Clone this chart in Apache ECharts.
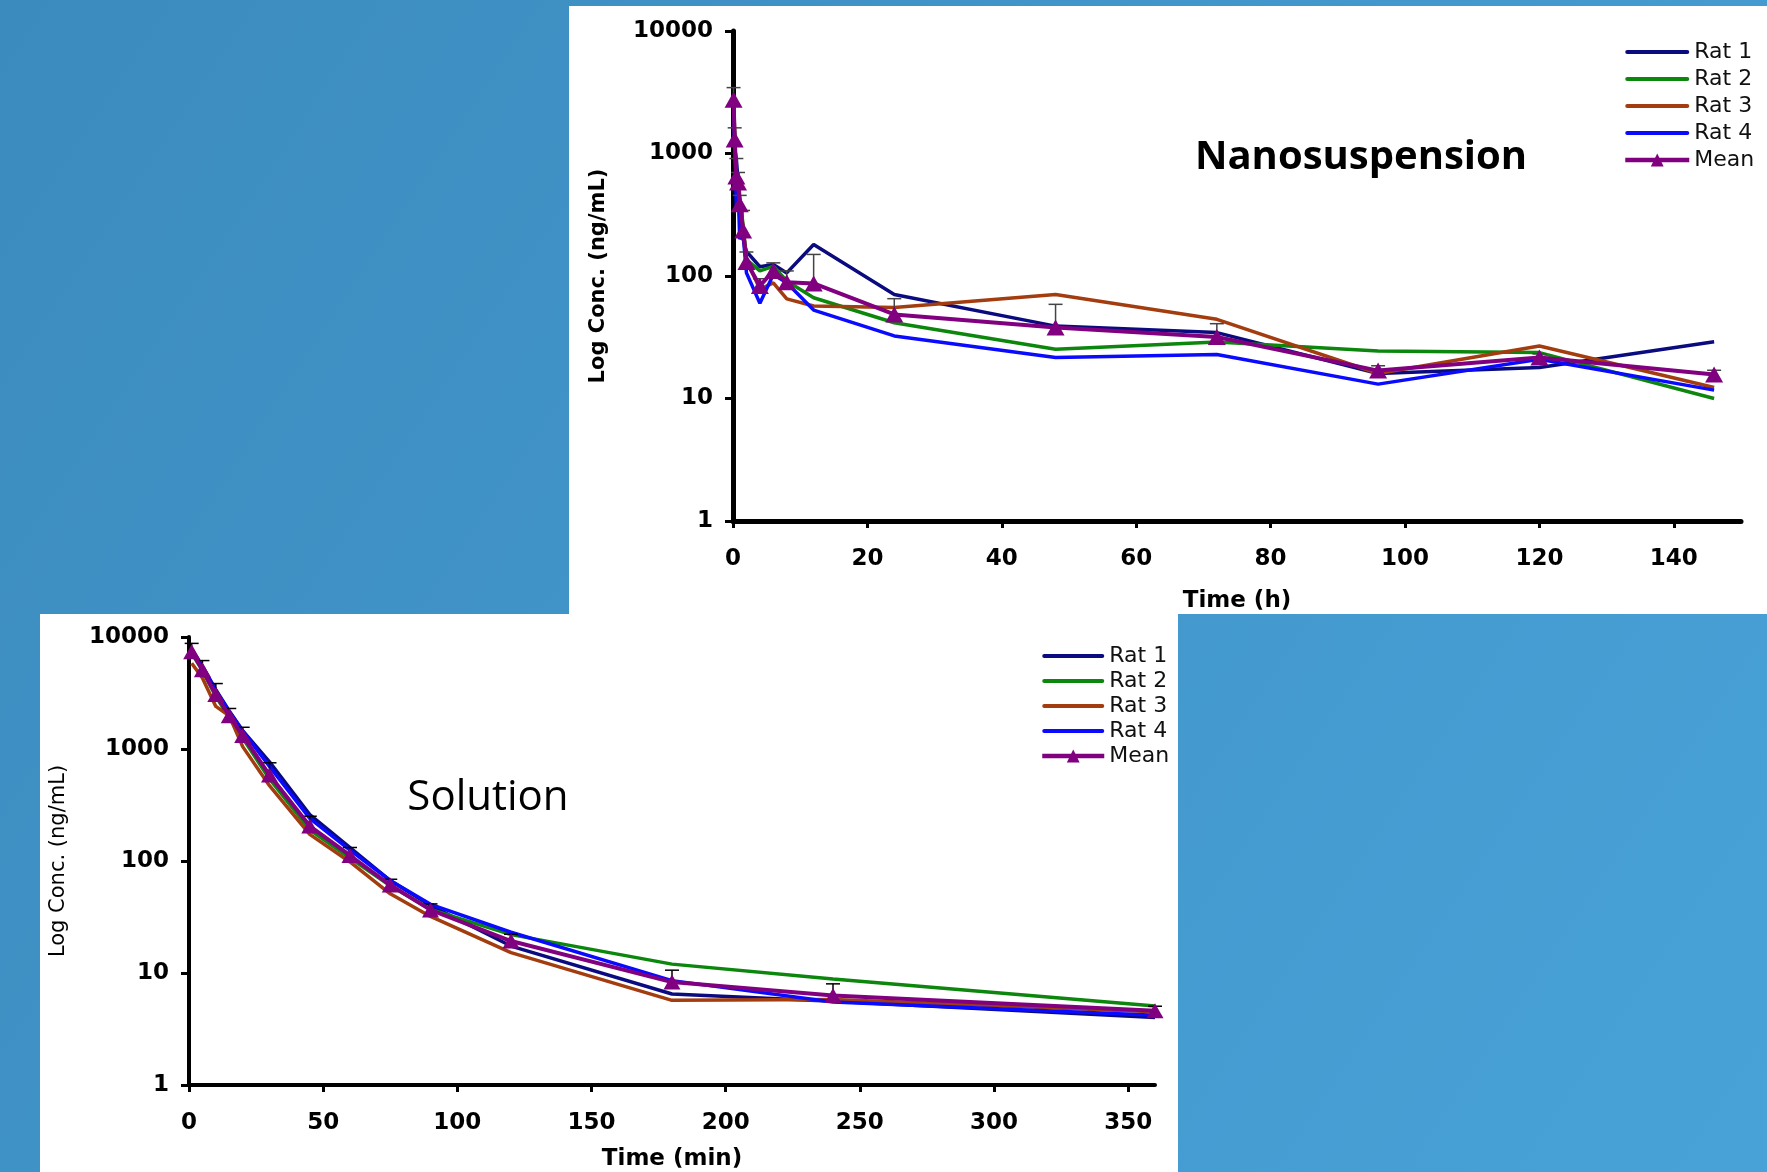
<!DOCTYPE html>
<html>
<head>
<meta charset="utf-8">
<title>Nanosuspension vs Solution</title>
<script src="https://cdn.jsdelivr.net/npm/echarts@6/dist/echarts.min.js"></script>
<style>
  html, body { margin: 0; padding: 0; }
  #chart { width: 1767px; height: 1172px; }
</style>
</head>
<body>
<div id="chart"></div>
<script>
// ---- Nanosuspension (time in h) ----
const nanoTimes = [0.083, 0.25, 0.5, 0.75, 1, 1.5, 2, 4, 6, 8, 12, 24, 48, 72, 96, 120, 146];
const nanoRat1 = [2900, 1100, 900, 600, 300, 200, 159, 119, 124, 106, 181, 70.7, 39, 34.5, 16, 17.9, 29.1];
const nanoRat2 = [2600, 1400, 600, 700, 450, 260, 136, 110, 120, 91, 66.5, 41.5, 25.2, 28.9, 24.4, 23.7, 10];
const nanoRat3 = [3000, 1500, 500, 700, 400, 250, 136, 78, 88, 65, 56.9, 55.3, 70.7, 44.3, 16, 26.8, 12.3];
const nanoRat4 = [2500, 1200, 350, 550, 200, 220, 106, 60, 103, 88, 52.7, 32.4, 21.6, 22.9, 13.1, 20.9, 11.7];
const nanoMean = [2750, 1300, 650, 580, 385, 235, 130, 83, 110, 89, 87, 48.6, 37.9, 31.8, 16.9, 21.6, 15.7];
const nanoSd   = [700, 320, 260, 120, 70, 108, 27, 12, 18, 21, 63, 16.7, 20.8, 9, 1.6, 1.5, 1.3];
const nanoTicks = [0, 20, 40, 60, 80, 100, 120, 140];

// ---- Solution (time in min) ----
const solTimes = [1, 5, 10, 15, 20, 30, 45, 60, 75, 90, 120, 180, 240, 360];
const solRat1 = [7650, 5460, 3390, 2190, 1460, 768, 260, 132, 67, 40, 17.4, 6.5, 5.6, 4.0];
const solRat2 = [7200, 5000, 2950, 1900, 1250, 540, 190, 106, 60, 37, 22, 12, 8.85, 5.08];
const solRat3 = [5840, 4300, 2400, 1980, 1050, 470, 173, 98, 51, 32, 15.2, 5.7, 5.8, 4.5];
const solRat4 = [7800, 5500, 3300, 2150, 1450, 700, 240, 125, 67, 41, 23.1, 8.55, 5.5, 4.2];
const solMean = [7400, 5100, 3070, 1980, 1320, 585, 205, 112, 61, 36.6, 19.3, 8.3, 6.3, 4.6];
const solSd   = [1370, 1060, 770, 320, 243, 168, 46, 20, 7.7, 4.8, 2.9, 2.3, 1.7, 0.45];
const solTicks = [0, 50, 100, 150, 200, 250, 300, 350];

const names = ['Rat 1', 'Rat 2', 'Rat 3', 'Rat 4', 'Mean'];
const colors = ['#0b0b80', '#0c860c', '#a33c0e', '#0a0aff', '#800080'];
const FONT = 'DejaVu Sans';
// thick rounded bar used as legend icon for the rat lines
const barIcon = 'path://M2,0H62A2,2,0,0,1,62,4H2A2,2,0,0,1,2,0Z';

var chartDom = document.getElementById('chart');
var myChart = echarts.init(chartDom, null, {renderer: 'canvas'});

function pairs(times, vals) {
    return times.map((t, i) => [t, vals[i]]);
}

function ratSeries(idx, times, vals, gi) {
    return {
        name: names[idx],
        type: 'line',
        xAxisIndex: gi,
        yAxisIndex: gi,
        data: pairs(times, vals),
        symbol: 'none',
        animation: false,
        z: 2,
        lineStyle: {color: colors[idx], width: 3.5},
        itemStyle: {color: colors[idx]}
    };
}

function meanSeries(times, vals, gi, size) {
    return {
        name: 'Mean',
        type: 'line',
        xAxisIndex: gi,
        yAxisIndex: gi,
        data: pairs(times, vals),
        symbol: 'triangle',
        symbolSize: size,
        showAllSymbol: true,
        animation: false,
        z: 4,
        lineStyle: {color: colors[4], width: 4},
        itemStyle: {color: colors[4]}
    };
}

// error bars (upper only) drawn with a custom series
function errorSeries(times, means, sds, gi, color, capHalf) {
    return {
        type: 'custom',
        xAxisIndex: gi,
        yAxisIndex: gi,
        silent: true,
        animation: false,
        z: 3,
        encode: {x: 0, y: [1, 2]},
        data: times.map((t, i) => [t, means[i], means[i] + sds[i]]),
        renderItem: function (params, api) {
            const base = api.coord([api.value(0), api.value(1)]);
            const top = api.coord([api.value(0), api.value(2)]);
            return {
                type: 'group',
                children: [
                    {type: 'line', shape: {x1: base[0], y1: base[1], x2: top[0], y2: top[1]},
                        style: {stroke: color, lineWidth: 1.5}},
                    {type: 'line', shape: {x1: top[0] - capHalf, y1: top[1], x2: top[0] + capHalf, y2: top[1]},
                        style: {stroke: color, lineWidth: 1.5}}
                ]
            };
        }
    };
}

function timeAxis(gi, max, ticks, name, gap, lw, margin) {
    return {
        type: 'value',
        gridIndex: gi,
        min: 0,
        max: max,
        interval: ticks[1],
        axisLine: {show: true, onZero: false, lineStyle: {color: '#000', width: lw}},
        axisTick: {show: true, length: 7, customValues: ticks, lineStyle: {color: '#000', width: 3}},
        axisLabel: {customValues: ticks, color: '#000', fontFamily: FONT, fontWeight: 'bold', fontSize: 23, margin: margin},
        splitLine: {show: false},
        name: name,
        nameLocation: 'middle',
        nameGap: gap,
        nameTextStyle: {color: '#000', fontFamily: FONT, fontWeight: 'bold', fontSize: 23}
    };
}

function concAxis(gi, gap, weight, lw) {
    return {
        type: 'log',
        logBase: 10,
        gridIndex: gi,
        min: 1,
        max: 10000,
        axisLine: {show: true, onZero: false, lineStyle: {color: '#000', width: lw}},
        axisTick: {show: true, length: 8, lineStyle: {color: '#000', width: 3}},
        axisLabel: {
            color: '#000', fontFamily: FONT, fontWeight: 'bold', fontSize: 23, margin: 20,
            formatter: v => String(Math.round(v))
        },
        minorTick: {show: false},
        splitLine: {show: false},
        name: 'Log Conc. (ng/mL)',
        nameLocation: 'middle',
        nameGap: gap,
        nameTextStyle: {color: '#000', fontFamily: FONT, fontWeight: weight, fontSize: 21}
    };
}

const legendBase = {
    orient: 'vertical',
    padding: 0,
    data: names.map(n => (n === 'Mean' ? {name: n} : {name: n, icon: barIcon})),
    itemHeight: 16,
    selectedMode: false,
    lineStyle: {width: 4.5},
    textStyle: {color: '#111', fontFamily: FONT, fontSize: 22, lineHeight: 20, padding: [0, 0, 0, 0]}
};

var option = {
    animation: false,
    backgroundColor: {
        type: 'linear', x: 0, y: 0, x2: 1, y2: 1,
        colorStops: [{offset: 0, color: '#3c8bbe'}, {offset: 1, color: '#48a2d8'}]
    },
    graphic: [
        {type: 'rect', z: -100, silent: true, shape: {x: 569, y: 6, width: 1198, height: 608}, style: {fill: '#fff'}},
        {type: 'rect', z: -100, silent: true, shape: {x: 40, y: 614, width: 1138, height: 558}, style: {fill: '#fff'}},
        {type: 'text', x: 1361, y: 158, silent: true,
            style: {text: 'Nanosuspension', fontFamily: 'Open Sans', fontWeight: 'bold', fontSize: 40,
                fill: '#000', align: 'center', verticalAlign: 'middle'}},
        {type: 'text', x: 488, y: 798, silent: true,
            style: {text: 'Solution', fontFamily: 'Open Sans', fontWeight: 'normal', fontSize: 42,
                fill: '#000', align: 'center', verticalAlign: 'middle'}}
    ],
    legend: [
        Object.assign({}, legendBase, {left: 1623, top: 41, itemWidth: 64, itemGap: 5}),
        Object.assign({}, legendBase, {left: 1040, top: 645, itemWidth: 62, itemGap: 3})
    ],
    grid: [
        {left: 733, top: 31, width: 1008, height: 490},
        {left: 189, top: 637, width: 966, height: 455}
    ],
    xAxis: [
        timeAxis(0, 150, nanoTicks, 'Time (h)', 69, 5, 27),
        timeAxis(1, 360, solTicks, 'Time (min)', 63, 4, 27)
    ],
    yAxis: [
        concAxis(0, 124, 'bold', 5),
        concAxis(1, 120, 'normal', 4)
    ],
    series: [
        ratSeries(0, nanoTimes, nanoRat1, 0),
        ratSeries(1, nanoTimes, nanoRat2, 0),
        ratSeries(2, nanoTimes, nanoRat3, 0),
        ratSeries(3, nanoTimes, nanoRat4, 0),
        errorSeries(nanoTimes, nanoMean, nanoSd, 0, '#444', 7),
        meanSeries(nanoTimes, nanoMean, 0, [18, 16]),

        ratSeries(0, solTimes, solRat1, 1),
        ratSeries(1, solTimes, solRat2, 1),
        ratSeries(2, solTimes, solRat3, 1),
        ratSeries(3, solTimes, solRat4, 1),
        errorSeries(solTimes, solMean, solSd, 1, '#000', 7),
        meanSeries(solTimes, solMean, 1, [17, 15])
    ]
};

option && myChart.setOption(option);
</script>
</body>
</html>
